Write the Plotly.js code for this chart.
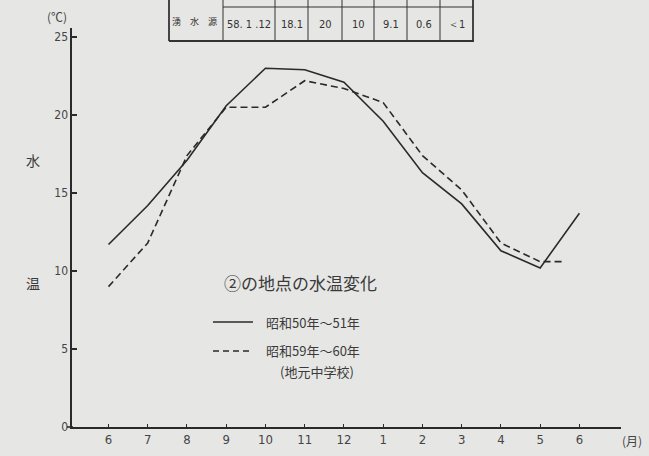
<!DOCTYPE html>
<html>
<head>
<meta charset="utf-8">
<script src="https://cdn.plot.ly/plotly-3.0.1.min.js"></script>
<style>
html,body{margin:0;padding:0;background:#e6e6e4;}
#chart{width:649px;height:456px;}
</style>
</head>
<body>
<div id="chart"></div>
<script>
// ---- data ----
const monthLabels = ['6','7','8','9','10','11','12','1','2','3','4','5','6'];
const monthPos = [0,1,2,3,4,5,6,7,8,9,10,11,12];
const x5051 = [0,1,2,3,4,5,6,7,8,9,10,11,12];
const temp5051 = [11.7,14.2,17.1,20.6,23.0,22.9,22.1,19.6,16.3,14.3,11.3,10.2,13.7];
const x5960 = [0,1,2,3,4,5,6,7,8,9,10,11,11.6];
const temp5960 = [9.0,11.8,17.4,20.5,20.5,22.2,21.7,20.8,17.4,15.2,11.8,10.6,10.6];
const seriesNames = ['昭和50年～51年','昭和59年～60年'];
const seriesNote = '(地元中学校)';
const yTicks = [0,5,10,15,20,25];
const chartTitle = '②の地点の水温変化';
const tableRowLabel = '湧　水　源';
const tableValues = ['58. 1 .12','18.1','20','10','9.1','0.6','＜1'];

// ---- helpers: pixel -> paper ----
const L = 72, R = 28, T = 28, B = 29, W = 649, H = 456;
const pw = W - L - R, ph = H - T - B;
const px = x => (x - L) / pw;
const py = y => (H - B - y) / ph;

const jp = '"Noto Sans CJK JP", "Noto Sans", sans-serif';
const num = '"Liberation Sans Narrow", "DejaVu Sans Condensed", "Liberation Sans", sans-serif';
const ink = '#2a2a2a';
const soft = '#3a3a3a';

const traces = [
  {x: x5051, y: temp5051, type: 'scatter', mode: 'lines', name: seriesNames[0],
   line: {color: ink, width: 1.6}, showlegend: false, hoverinfo: 'x+y'},
  {x: x5960, y: temp5960, type: 'scatter', mode: 'lines', name: seriesNames[1],
   line: {color: ink, width: 1.6, dash: '7px,4px'}, showlegend: false, hoverinfo: 'x+y'}
];

const shapes = [];
const annotations = [];

// x-axis line extends a little left of the y axis, as in the print
shapes.push({type:'line', xref:'paper', yref:'paper', x0:px(67), x1:px(73), y0:0, y1:0, line:{color:ink, width:1.6}});

// legend samples
shapes.push({type:'line', xref:'paper', yref:'paper', x0:px(213), x1:px(253), y0:py(322), y1:py(322), line:{color:ink, width:1.6}});
shapes.push({type:'line', xref:'paper', yref:'paper', x0:px(213), x1:px(250), y0:py(351), y1:py(351), line:{color:ink, width:1.6, dash:'6px,4px'}});
annotations.push({xref:'paper', yref:'paper', x:px(264), y:py(322), xanchor:'left', yanchor:'middle', showarrow:false, text:seriesNames[0], font:{family:jp, size:13, color:soft}});
annotations.push({xref:'paper', yref:'paper', x:px(264), y:py(350), xanchor:'left', yanchor:'middle', showarrow:false, text:seriesNames[1], font:{family:jp, size:13, color:soft}});
annotations.push({xref:'paper', yref:'paper', x:px(278), y:py(371), xanchor:'left', yanchor:'middle', showarrow:false, text:seriesNote, font:{family:jp, size:13, color:soft}});
// chart title
annotations.push({xref:'paper', yref:'paper', x:px(300), y:py(282), xanchor:'center', yanchor:'middle', showarrow:false, text:chartTitle, font:{family:jp, size:17, color:soft}});
// axis labels
annotations.push({xref:'paper', yref:'paper', x:px(33), y:py(160), xanchor:'center', yanchor:'middle', showarrow:false, text:'水', font:{family:jp, size:14, color:soft}});
annotations.push({xref:'paper', yref:'paper', x:px(33), y:py(283), xanchor:'center', yanchor:'middle', showarrow:false, text:'温', font:{family:jp, size:14, color:soft}});
annotations.push({xref:'paper', yref:'paper', x:px(57), y:py(16), xanchor:'center', yanchor:'middle', showarrow:false, text:'(℃)', font:{family:jp, size:12, color:'#444'}});
annotations.push({xref:'paper', yref:'paper', x:px(632), y:py(440), xanchor:'center', yanchor:'middle', showarrow:false, text:'(月)', font:{family:jp, size:12, color:'#444'}});

// partial table at top
const colEdges = [169, 223, 275, 308, 342, 374, 407, 440, 473];
const tTop = 7, tBot = 41;
shapes.push({type:'line', xref:'paper', yref:'paper', x0:px(colEdges[1]), x1:px(473), y0:py(tTop), y1:py(tTop), line:{color:'#333', width:1}});
shapes.push({type:'line', xref:'paper', yref:'paper', x0:px(169), x1:px(474), y0:py(tBot), y1:py(tBot), line:{color:'#333', width:2}});
colEdges.forEach((e, i) => {
  shapes.push({type:'line', xref:'paper', yref:'paper', x0:px(e), x1:px(e), y0:py(0), y1:py(tBot), line:{color:'#333', width:(i===0||i===colEdges.length-1)?1.8:1}});
});
annotations.push({xref:'paper', yref:'paper', x:px(194), y:py(22), xanchor:'center', yanchor:'middle', showarrow:false, text:tableRowLabel, font:{family:jp, size:9, color:'#333'}});
tableValues.forEach((v, i) => {
  const cx = (colEdges[i+1] + colEdges[i+2]) / 2;
  annotations.push({xref:'paper', yref:'paper', x:px(cx), y:py(25), xanchor:'center', yanchor:'middle', showarrow:false, text:v, font:{family:num, size:11, color:'#333'}});
});

const layout = {
  width: W, height: H,
  margin: {l: L, r: R, t: T, b: B, pad: 0},
  paper_bgcolor: '#e6e6e4',
  plot_bgcolor: '#e6e6e4',
  showlegend: false,
  xaxis: {
    range: [-0.93, 13.06], tickvals: monthPos, ticktext: monthLabels,
    ticks: 'inside', ticklen: 3, tickcolor: ink, tickwidth: 1,
    showline: true, linecolor: ink, linewidth: 1.6,
    showgrid: false, zeroline: false, fixedrange: true,
    tickfont: {family: num, size: 13, color: '#444'}
  },
  yaxis: {
    range: [0, 25.58], tickvals: yTicks,
    ticks: 'inside', ticklen: 5, tickcolor: ink, tickwidth: 1.3,
    showline: true, linecolor: ink, linewidth: 1.6,
    showgrid: false, zeroline: false, fixedrange: true,
    tickfont: {family: num, size: 12, color: '#444'}
  },
  shapes: shapes,
  annotations: annotations
};

Plotly.newPlot('chart', traces, layout, {staticPlot: true, displayModeBar: false});
</script>
</body>
</html>
